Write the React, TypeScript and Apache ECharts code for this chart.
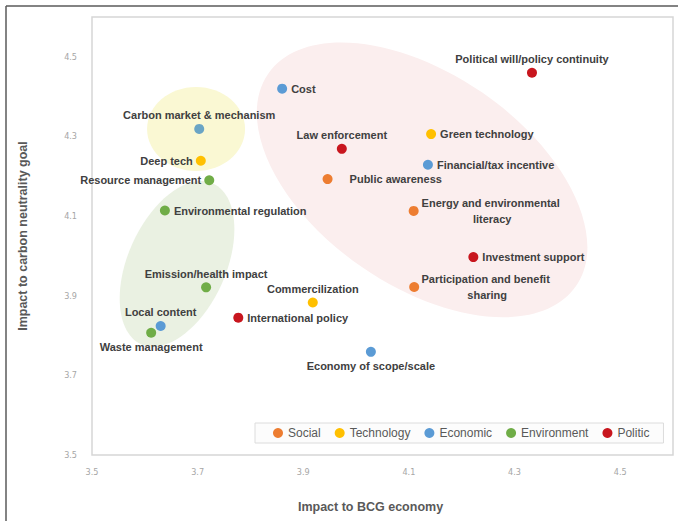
import React, { useEffect, useRef } from "react";
import * as echarts from "echarts";

// Factor groups and their marker colours
const categories = ["Social", "Technology", "Economic", "Environment", "Politic"];
const categoryColors = ["#ED7D31", "#FFC000", "#5B9BD5", "#70AD47", "#C8161E"];

// Factors, their group and the two impact scores
const factors = [
  "Political will/policy continuity",
  "Cost",
  "Carbon market & mechanism",
  "Deep tech",
  "Resource management",
  "Environmental regulation",
  "Law enforcement",
  "Green technology",
  "Financial/tax incentive",
  "Public awareness",
  "Energy and environmental literacy",
  "Investment support",
  "Participation and benefit sharing",
  "Commercilization",
  "International policy",
  "Emission/health impact",
  "Local content",
  "Waste management",
  "Economy of scope/scale",
];
const factorCategory = [
  "Politic", "Economic", "Economic", "Technology", "Environment", "Environment",
  "Politic", "Technology", "Economic", "Social", "Social", "Politic", "Social",
  "Technology", "Politic", "Environment", "Economic", "Environment", "Economic",
];
const bcgImpact = [
  4.333, 3.86, 3.703, 3.706, 3.722, 3.638, 3.973, 4.142, 4.136, 3.946, 4.109,
  4.222, 4.11, 3.918, 3.777, 3.716, 3.63, 3.612, 4.028,
];
const carbonImpact = [
  4.46, 4.42, 4.319, 4.239, 4.19, 4.114, 4.269, 4.306, 4.229, 4.193, 4.113,
  3.997, 3.922, 3.883, 3.845, 3.921, 3.824, 3.807, 3.759,
];

// Axis range and tick labels
const axisMin = 3.5;
const axisMax = 4.6;
const tickLabels = ["3.5", "3.7", "3.9", "4.1", "4.3", "4.5"];

// Shaded cluster areas: centre in data units
const clusters = [
  { center: [4.125, 4.191], rx: 187, ry: 106, angle: -34.6, fill: "#FBEEEE" },
  { center: [3.697, 4.319], rx: 49, ry: 42, angle: 0, fill: "#FAF8D3" },
  { center: [3.661, 3.98], rx: 88, ry: 49, angle: 66, fill: "#EAF1E2" },
];

// Where each factor's label sits relative to its marker
type LabelStyle = Record<string, unknown>;
const labelTop: LabelStyle = { position: "top", distance: 3 };
const labelBottom: LabelStyle = { position: "bottom", distance: 4 };
const labelLeft: LabelStyle = { position: "left", distance: 3 };
const labelRight: LabelStyle = { position: "right", distance: 4 };
const labelPlacement: Record<string, LabelStyle> = {
  "Political will/policy continuity": labelTop,
  "Carbon market & mechanism": labelTop,
  "Law enforcement": labelTop,
  Commercilization: labelTop,
  "Emission/health impact": labelTop,
  "Local content": labelTop,
  "Waste management": labelBottom,
  "Economy of scope/scale": labelBottom,
  "Deep tech": labelLeft,
  "Resource management": labelLeft,
  "Public awareness": { position: "right", distance: 17 },
  "Energy and environmental literacy": {
    position: "right", distance: 5, align: "center", offset: [67, 0],
    width: 140, overflow: "break", lineHeight: 16,
  },
  "Participation and benefit sharing": {
    position: "right", distance: 5, align: "center", offset: [63, 0],
    width: 140, overflow: "break", lineHeight: 16,
  },
};
const markerOverride: Record<string, string> = {
  "Carbon market & mechanism": "#6AA5C5",
};

const LABEL_FONT = "'Liberation Sans', Arial, sans-serif";
const NARROW_FONT = "'Liberation Sans Narrow', 'DejaVu Sans Condensed', 'Liberation Sans', sans-serif";

function tickFormatter(v: number): string {
  const s = v.toFixed(1);
  return tickLabels.includes(s) ? s : "";
}

function buildOption(): echarts.EChartsCoreOption {
  const series = categories.map((cat, ci) => ({
    name: cat,
    type: "scatter",
    symbol: "circle",
    symbolSize: 10,
    itemStyle: { color: categoryColors[ci], opacity: 1 },
    label: {
      show: true,
      formatter: "{b}",
      color: "#404040",
      fontSize: 11,
      fontWeight: "bold",
      fontFamily: LABEL_FONT,
    },
    emphasis: { disabled: true },
    data: factors
      .map((name, i) => ({ name, i }))
      .filter(({ i }) => factorCategory[i] === cat)
      .map(({ name, i }) => ({
        name,
        value: [bcgImpact[i], carbonImpact[i]],
        label: { ...(labelPlacement[name] || labelRight) },
        ...(markerOverride[name] ? { itemStyle: { color: markerOverride[name] } } : {}),
      })),
  }));

  const axisCommon = {
    type: "value",
    min: axisMin,
    max: axisMax,
    interval: 0.1,
    splitLine: { show: false },
    axisTick: { show: false },
    axisLine: { show: false },
    nameLocation: "middle",
    nameTextStyle: {
      color: "#595959",
      fontSize: 12.5,
      fontWeight: "bold",
      fontFamily: LABEL_FONT,
    },
  };

  return {
    animation: false,
    backgroundColor: "#ffffff",
    grid: {
      left: 92,
      top: 17,
      right: 5,
      bottom: 66,
      show: true,
      borderColor: "#d6d6d6",
      borderWidth: 1.5,
      backgroundColor: "transparent",
      z: 1,
    },
    xAxis: {
      ...axisCommon,
      name: "Impact to BCG economy",
      nameGap: 45,
      nameTextStyle: { ...axisCommon.nameTextStyle, padding: [0, 24, 0, 0] },
      axisLabel: {
        formatter: tickFormatter,
        color: "#a6a6a6",
        fontSize: 9,
        fontFamily: NARROW_FONT,
        margin: 12,
      },
    },
    yAxis: {
      ...axisCommon,
      name: "Impact to carbon neutrality goal",
      nameGap: 63,
      axisLabel: {
        formatter: tickFormatter,
        color: "#a6a6a6",
        fontSize: 9,
        fontFamily: NARROW_FONT,
        margin: 15,
      },
    },
    legend: {
      data: categories,
      left: 255,
      top: 423,
      orient: "horizontal",
      icon: "circle",
      itemWidth: 10,
      itemHeight: 10,
      itemGap: 14,
      padding: [4, 14, 4, 18],
      borderColor: "#dcdcdc",
      borderWidth: 1,
      backgroundColor: "#fcfcfc",
      selectedMode: false,
      textStyle: { color: "#595959", fontSize: 12, fontFamily: LABEL_FONT },
    },
    series,
  };
}

export default function App() {
  const ref = useRef<HTMLDivElement>(null);

  useEffect(() => {
    document.body.style.margin = "0";
    const el = ref.current;
    if (!el) return;
    const chart = echarts.init(el, null, { renderer: "svg" });
    chart.setOption(buildOption());

    const shapes = clusters.map((c) => {
      const [px, py] = chart.convertToPixel({ gridIndex: 0 }, c.center) as number[];
      return {
        type: "ellipse",
        x: px,
        y: py,
        rotation: (c.angle * Math.PI) / 180,
        shape: { cx: 0, cy: 0, rx: c.rx, ry: c.ry },
        style: { fill: c.fill },
        silent: true,
        z: 0,
      };
    });
    const frame = [
      { type: "line", shape: { x1: 6, y1: 6, x2: 678, y2: 6 }, style: { stroke: "#5a5a5a", lineWidth: 1.5 }, silent: true },
      { type: "line", shape: { x1: 6, y1: 6, x2: 6, y2: 521 }, style: { stroke: "#5a5a5a", lineWidth: 1.5 }, silent: true },
    ];
    chart.setOption({ graphic: [...shapes, ...frame] });

    return () => chart.dispose();
  }, []);

  return <div ref={ref} style={{ width: 678, height: 521 }} />;
}
